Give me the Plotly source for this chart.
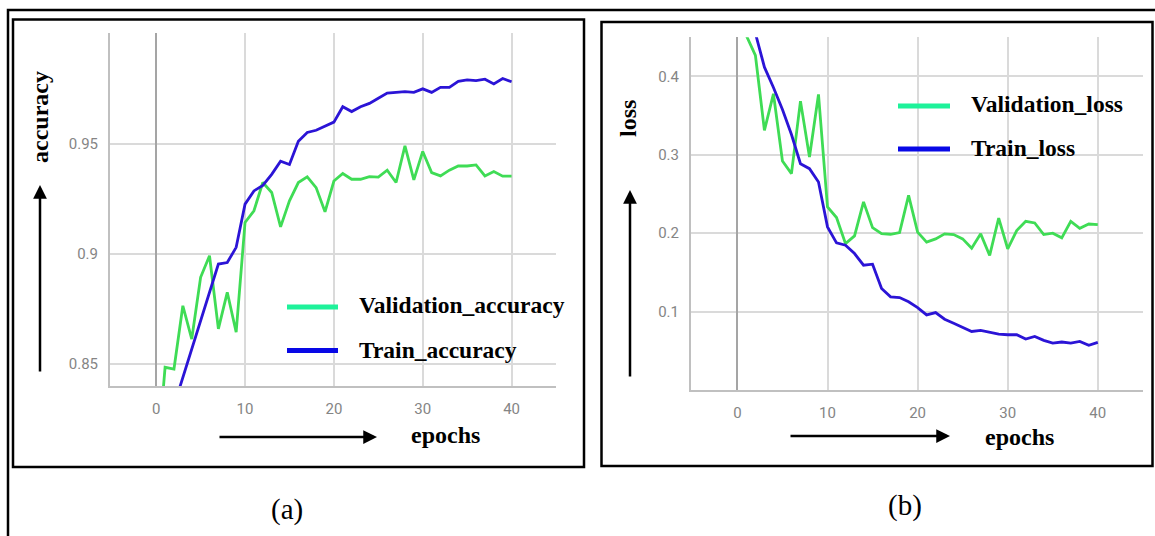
import plotly.graph_objects as go

W, H = 1155, 536

epochs = list(range(0, 41))

val_accuracy = [0.800, 0.8485, 0.8477, 0.8764, 0.8613, 0.8893, 0.8991, 0.8659, 0.8825, 0.8644,
                0.9142, 0.9195, 0.9323, 0.9278, 0.9122, 0.9240, 0.9323, 0.9349, 0.9300, 0.9190,
                0.9330, 0.9364, 0.9338, 0.9338, 0.9350, 0.9348, 0.9379, 0.9323, 0.9489, 0.9335,
                0.9464, 0.9368, 0.9353, 0.9379, 0.9398, 0.9398, 0.9403, 0.9353, 0.9373, 0.9352,
                0.9352]
train_accuracy = [0.770, 0.810, 0.831, 0.8440, 0.8570, 0.8700, 0.8830, 0.8953, 0.8960, 0.9029,
                  0.9225, 0.9285, 0.9310, 0.9360, 0.9420, 0.9405, 0.9510, 0.9550, 0.9560, 0.9580,
                  0.9597, 0.9667, 0.9645, 0.9667, 0.9682, 0.9705, 0.9729, 0.9732, 0.9735, 0.9732,
                  0.9748, 0.9732, 0.9755, 0.9755, 0.9782, 0.9789, 0.9785, 0.9792, 0.9770, 0.9795,
                  0.9780]

val_loss = [0.550, 0.452, 0.4268, 0.3312, 0.3779, 0.2921, 0.2760, 0.3686, 0.2972, 0.3771,
            0.2335, 0.2200, 0.1868, 0.1966, 0.2400, 0.2072, 0.1996, 0.1987, 0.2008, 0.2484,
            0.2015, 0.1886, 0.1928, 0.1992, 0.1983, 0.1928, 0.1810, 0.1992, 0.1717, 0.2194,
            0.1802, 0.2034, 0.2152, 0.2131, 0.1983, 0.2000, 0.1941, 0.2152, 0.2063, 0.2118,
            0.2110]
train_loss = [0.580, 0.500, 0.455, 0.4119, 0.3860, 0.3580, 0.3260, 0.2887, 0.2824, 0.2654,
              0.2081, 0.1877, 0.1847, 0.1741, 0.1592, 0.1605, 0.1295, 0.1189, 0.1180, 0.1125,
              0.1050, 0.0958, 0.0987, 0.0903, 0.0852, 0.0802, 0.0747, 0.0760, 0.0734, 0.0713,
              0.0705, 0.0705, 0.0650, 0.0684, 0.0633, 0.0599, 0.0612, 0.0599, 0.0620, 0.0570,
              0.0608]

acc_ticks = [0.85, 0.9, 0.95, 1.0]
acc_ticktext = ["0.85", "0.9", "0.95", ""]
loss_ticks = [0.1, 0.2, 0.3, 0.4]
loss_ticktext = ["0.1", "0.2", "0.3", "0.4"]
x_ticks = [0, 10, 20, 30, 40]

GREEN = "#3fdc55"
BLUE = "#2b14d6"
LEG_GREEN = "#1ef29a"
LEG_BLUE = "#0808e6"


def px(x):
    return x / W


def py(y):
    return 1 - y / H


fig = go.Figure()
fig.add_trace(go.Scatter(x=epochs, y=val_accuracy, mode="lines", line=dict(color=GREEN, width=2.8),
                         xaxis="x", yaxis="y", showlegend=False))
fig.add_trace(go.Scatter(x=epochs, y=train_accuracy, mode="lines", line=dict(color=BLUE, width=2.8),
                         xaxis="x", yaxis="y", showlegend=False))
fig.add_trace(go.Scatter(x=epochs, y=val_loss, mode="lines", line=dict(color=GREEN, width=2.8),
                         xaxis="x2", yaxis="y2", showlegend=False))
fig.add_trace(go.Scatter(x=epochs, y=train_loss, mode="lines", line=dict(color=BLUE, width=2.8),
                         xaxis="x2", yaxis="y2", showlegend=False))

tickfont = dict(family="Roboto", size=15, color="#858585")
common_x = dict(tickvals=x_ticks, showgrid=True, gridcolor="#dadada", gridwidth=1.5,
                zeroline=True, zerolinecolor="#a5a5a5", zerolinewidth=2.2,
                showline=True, linecolor="#c0c0c0", linewidth=2,
                ticks="outside", ticklen=8, tickcolor="rgba(0,0,0,0)",
                tickfont=tickfont, fixedrange=True)
common_y = dict(showgrid=True, gridcolor="#dadada", gridwidth=1.5, zeroline=False,
                showline=True, linecolor="#c0c0c0", linewidth=2,
                ticks="outside", ticklen=7, tickcolor="rgba(0,0,0,0)",
                tickfont=tickfont, fixedrange=True)

fig.update_layout(
    width=W, height=H, autosize=False,
    margin=dict(l=0, r=0, t=0, b=0),
    paper_bgcolor="white", plot_bgcolor="white",
    xaxis=dict(domain=[px(110), px(556)], range=[-5.2, 45], anchor="y", **common_x),
    yaxis=dict(domain=[py(386), py(33.3)], range=[0.84, 1.0], anchor="x",
               tickvals=acc_ticks, ticktext=acc_ticktext, **common_y),
    xaxis2=dict(domain=[px(691), px(1143.3)], range=[-5.15, 45.05], anchor="y2", **common_x),
    yaxis2=dict(domain=[py(390), py(37.3)], range=[0, 0.45], anchor="x2",
                tickvals=loss_ticks, ticktext=loss_ticktext, **common_y),
)

shapes = []
# outer frame (extends beyond the picture on right and bottom)
shapes.append(dict(type="rect", xref="paper", yref="paper", x0=px(8), x1=px(1162), y0=py(10), y1=py(560),
                   line=dict(color="black", width=2.5), fillcolor="rgba(0,0,0,0)", layer="above"))
# panel frames
shapes.append(dict(type="rect", xref="paper", yref="paper", x0=px(13), x1=px(584), y0=py(19.5), y1=py(467),
                   line=dict(color="black", width=2.5), fillcolor="rgba(0,0,0,0)", layer="above"))
shapes.append(dict(type="rect", xref="paper", yref="paper", x0=px(601.5), x1=px(1152.5), y0=py(22), y1=py(466),
                   line=dict(color="black", width=2.5), fillcolor="rgba(0,0,0,0)", layer="above"))
# legend swatches
for (x0, x1, yy, c) in [(287, 338, 307, LEG_GREEN), (287, 338, 350.5, LEG_BLUE),
                        (898, 950, 106, LEG_GREEN), (898, 950, 149, LEG_BLUE)]:
    shapes.append(dict(type="line", xref="paper", yref="paper", x0=px(x0), x1=px(x1), y0=py(yy), y1=py(yy),
                       line=dict(color=c, width=5), layer="above"))
fig.update_layout(shapes=shapes)

serif_b = dict(family="Liberation Serif", size=23.5, color="black")
serif_b24 = dict(family="Liberation Serif", size=24, color="black")
ann = []


def text(x, y, s, font, xanchor="left", angle=0):
    ann.append(dict(xref="paper", yref="paper", x=px(x), y=py(y), text=s, showarrow=False,
                    font=font, xanchor=xanchor, yanchor="middle", textangle=angle))


def arrow(x_head, y_head, x_tail, y_tail):
    ann.append(dict(xref="paper", yref="paper", x=px(x_head), y=py(y_head), text="",
                    showarrow=True, axref="pixel", ayref="pixel",
                    ax=x_tail - x_head, ay=y_tail - y_head,
                    arrowhead=2, arrowsize=1.1, arrowwidth=2.5, arrowcolor="black", standoff=0))


text(357, 305, "<b>Validation_accuracy</b>", serif_b)
text(357, 350, "<b>Train_accuracy</b>", serif_b)
text(969, 104, "<b>Validation_loss</b>", serif_b)
text(969, 148, "<b>Train_loss</b>", serif_b)

text(40, 117, "<b>accuracy</b>", serif_b24, xanchor="center", angle=-90)
text(628, 119, "<b>loss</b>", serif_b24, xanchor="center", angle=-90)
text(445, 435, "<b>epochs</b>", serif_b24, xanchor="center")
text(1019, 437, "<b>epochs</b>", serif_b24, xanchor="center")

text(287, 509, "(a)", dict(family="Liberation Serif", size=29, color="black"), xanchor="center")
text(905, 505, "(b)", dict(family="Liberation Serif", size=29, color="black"), xanchor="center")

arrow(40, 185, 40, 373)
arrow(377, 437, 218, 437)
arrow(630, 190, 630, 378)
arrow(950, 436, 789, 436)

fig.update_layout(annotations=ann)

fig.write_html("out.html")
